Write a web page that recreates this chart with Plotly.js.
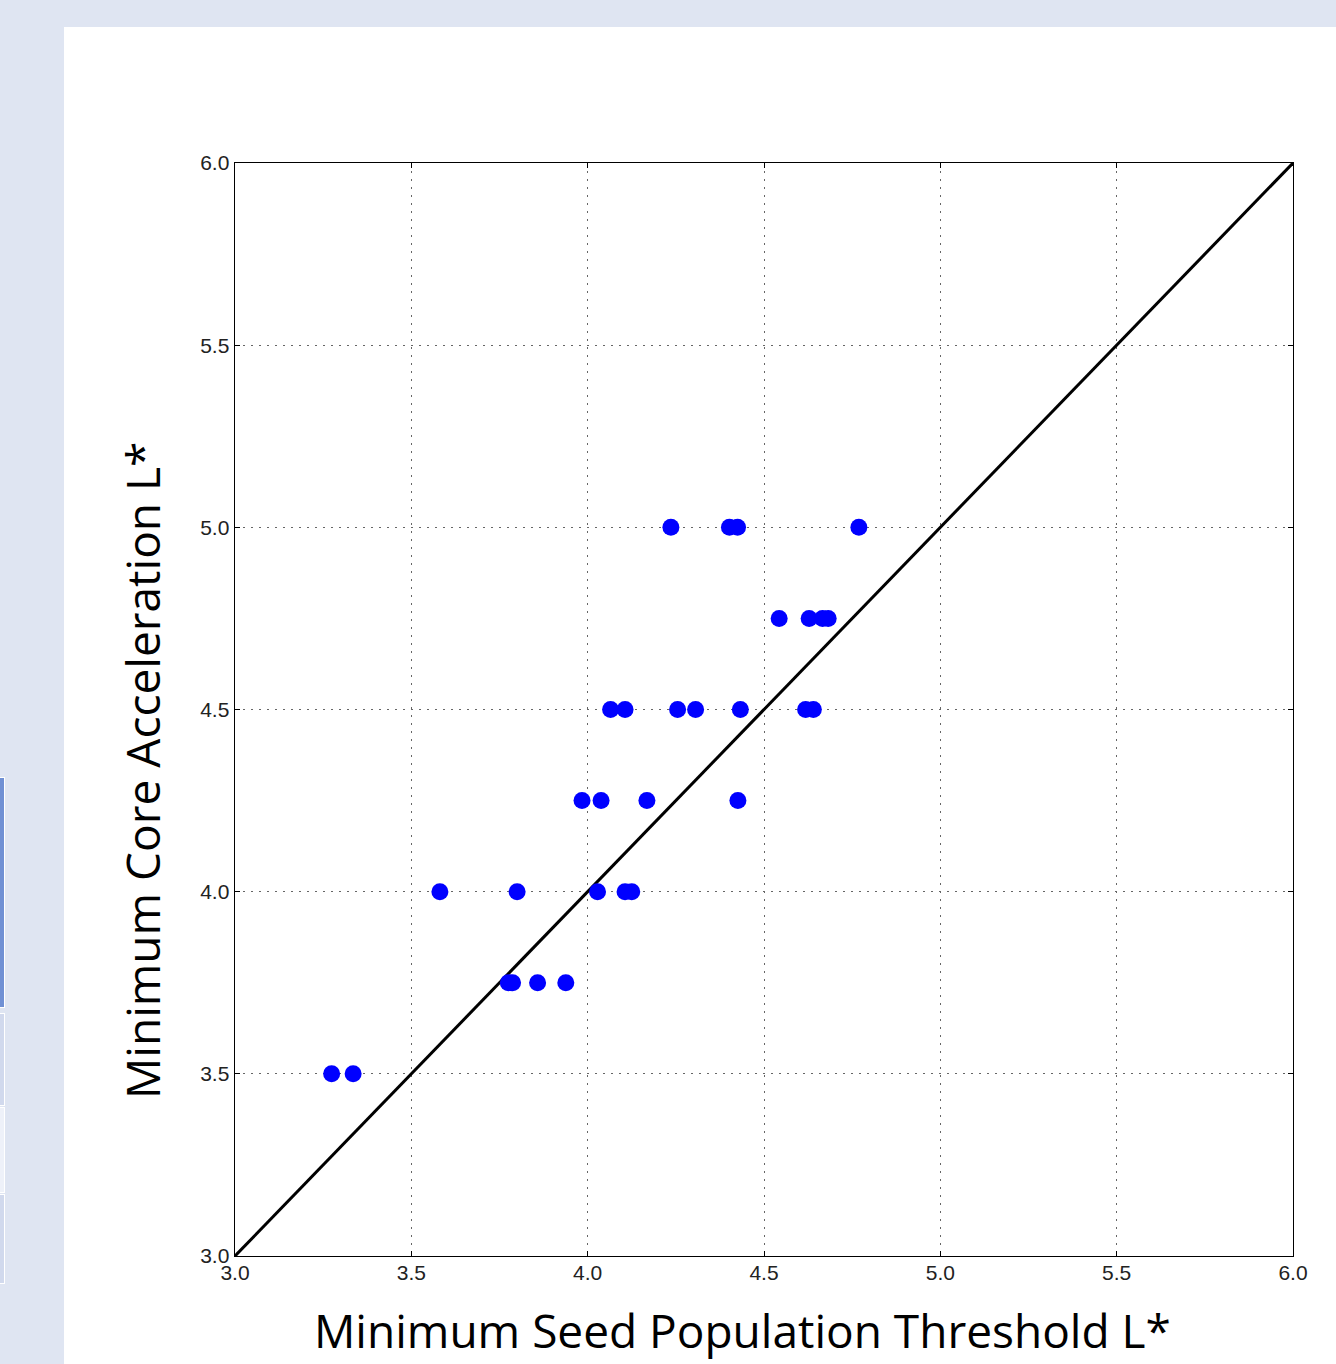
<!DOCTYPE html>
<html>
<head>
<meta charset="utf-8">
<script src="https://cdn.plot.ly/plotly-3.0.1.min.js"></script>
<style>
  html, body { margin:0; padding:0; width:1336px; height:1364px; background:#dfe5f2; overflow:hidden; position:relative; }
  #panel { position:absolute; left:64px; top:27px; width:1272px; height:1337px; background:#ffffff; }
  #chart { position:absolute; left:0; top:0; width:1272px; height:1337px; }
  .tab { position:absolute; left:0; width:4px; border:1px solid #ffffff; border-left:none; }
</style>
</head>
<body>
<div class="tab" style="top:777px;height:229px;background:#7090d4;"></div>
<div class="tab" style="top:1013px;height:91px;background:#d1d9ed;"></div>
<div class="tab" style="top:1107px;height:84px;background:#eef1f9;"></div>
<div class="tab" style="top:1194px;height:88px;background:#d1d9ed;"></div>
<div id="panel"><div id="chart"></div></div>
<script>
// Scatter data: Minimum Seed Population Threshold L* (x) vs Minimum Core Acceleration L* (y)
const seedThreshold = [
  4.236, 4.402, 4.425, 4.769,
  4.543, 4.628, 4.666, 4.682,
  4.065, 4.106, 4.255, 4.306, 4.433, 4.618, 4.640,
  3.984, 4.038, 4.168, 4.426,
  3.581, 3.800, 4.028, 4.106, 4.125,
  3.775, 3.787, 3.858, 3.938,
  3.274, 3.335
];
const coreAcceleration = [
  5.0, 5.0, 5.0, 5.0,
  4.75, 4.75, 4.75, 4.75,
  4.5, 4.5, 4.5, 4.5, 4.5, 4.5, 4.5,
  4.25, 4.25, 4.25, 4.25,
  4.0, 4.0, 4.0, 4.0, 4.0,
  3.75, 3.75, 3.75, 3.75,
  3.5, 3.5
];
const diagX = [3.0, 6.0];
const diagY = [3.0, 6.0];
const tickVals = [3.0, 3.5, 4.0, 4.5, 5.0, 5.5, 6.0];
const tickText = ["3.0", "3.5", "4.0", "4.5", "5.0", "5.5", "6.0"];
const xTitle = "Minimum Seed Population Threshold L*";
const yTitle = "Minimum Core Acceleration L*";

const axisCommon = {
  range: [3.0, 6.0],
  tickmode: 'array',
  tickvals: tickVals,
  ticktext: tickText,
  showgrid: true,
  gridcolor: '#666666',
  griddash: '2px,6px',
  gridwidth: 1,
  showline: true,
  linecolor: '#000000',
  linewidth: 1.4,
  mirror: 'ticks',
  ticks: 'inside',
  ticklen: 5,
  tickcolor: '#000000',
  tickwidth: 1,
  zeroline: false,
  tickfont: { family: 'Liberation Sans, Arial, sans-serif', size: 21, color: '#222222' },
  fixedrange: true
};

const traces = [
  {
    x: diagX, y: diagY, type: 'scatter', mode: 'lines',
    line: { color: '#000000', width: 3 },
    hoverinfo: 'skip', showlegend: false, cliponaxis: true
  },
  {
    x: seedThreshold, y: coreAcceleration, type: 'scatter', mode: 'markers',
    marker: { color: '#0000ff', size: 17, line: { width: 0 } },
    showlegend: false, cliponaxis: false
  }
];

const layout = {
  width: 1272, height: 1337,
  margin: { l: 171, r: 43, t: 136, b: 108 },
  paper_bgcolor: '#ffffff',
  plot_bgcolor: '#ffffff',
  showlegend: false,
  xaxis: Object.assign({}, axisCommon, { ticklabelstandoff: -3 }),
  yaxis: Object.assign({}, axisCommon),
  annotations: [
    {
      text: xTitle, xref: 'paper', yref: 'paper', x: 0.480, y: -0.0677,
      xanchor: 'center', yanchor: 'middle', showarrow: false,
      font: { family: 'Open Sans, sans-serif', size: 46, color: '#000000' }
    },
    {
      text: yTitle, xref: 'paper', yref: 'paper', x: -0.0879, y: 0.4437,
      xanchor: 'center', yanchor: 'middle', showarrow: false, textangle: -90,
      font: { family: 'Open Sans, sans-serif', size: 46, color: '#000000' }
    }
  ]
};

Plotly.newPlot('chart', traces, layout, { staticPlot: true, displayModeBar: false });
</script>
</body>
</html>
